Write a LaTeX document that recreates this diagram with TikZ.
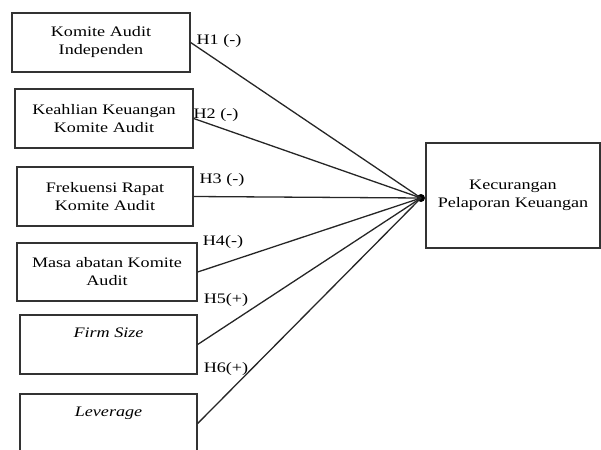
\documentclass[tikz,border=0pt]{standalone}
\usepackage{fontspec}
\usepackage{graphicx}
\setmainfont{Liberation Serif}
\newcommand{\sx}[1]{\scalebox{1.25}[1]{#1}}
\begin{document}
\begin{tikzpicture}[x=1pt,y=-1pt,
  var/.style={draw=black!80,line width=1.3pt,align=center,inner sep=0pt,
    font=\fontsize{14.5}{18}\selectfont},
  hyp/.style={font=\fontsize{14.5}{18}\selectfont,inner sep=0pt},
  link/.style={draw=black!85,line width=1.3pt}]
\clip (0,0) rectangle (601,449);
\useasboundingbox (0,0) rectangle (601,449);
\node[var,minimum width=178pt,minimum height=59pt] (b1) at (101,42.5) {\sx{Komite Audit}\\\sx{Independen}};
\node[var,minimum width=178pt,minimum height=59pt] (b2) at (104,118.5) {\sx{Keahlian Keuangan}\\\sx{Komite Audit}};
\node[var,minimum width=176pt,minimum height=59pt] (b3) at (105,196.5) {\sx{Frekuensi Rapat}\\\sx{Komite Audit}};
\node[var,minimum width=180pt,minimum height=58pt] (b4) at (107,272) {\sx{Masa abatan Komite}\\\sx{Audit}};
\node[var,minimum width=177pt,minimum height=59pt] (b5) at (108.5,344.5) {\sx{\textit{Firm Size}}\\\strut};
\node[var,minimum width=177pt,minimum height=59pt] (b6) at (108.5,423.5) {\sx{\textit{Leverage}}\\\strut};
\node[var,minimum width=174pt,minimum height=105pt] (y) at (513,195.5) {\sx{Kecurangan}\\\sx{Pelaporan Keuangan}};
\node[circle,fill=black,inner sep=0pt,minimum size=8pt] (dot) at (421,198) {};
\foreach \b in {b1,b2,b3,b4,b5,b6} \draw[link] (\b.east) -- (dot.center);
\node[hyp] (h1) at (219,41) {\sx{H1 (-)}};
\node[hyp] (h2) at (216,115) {\sx{H2 (-)}};
\node[hyp] (h3) at (222,180) {\sx{H3 (-)}};
\node[hyp] (h4) at (223,242) {\sx{H4(-)}};
\node[hyp] (h5) at (226,300) {\sx{H5(+)}};
\node[hyp] (h6) at (226,369) {\sx{H6(+)}};
\end{tikzpicture}
\end{document}
